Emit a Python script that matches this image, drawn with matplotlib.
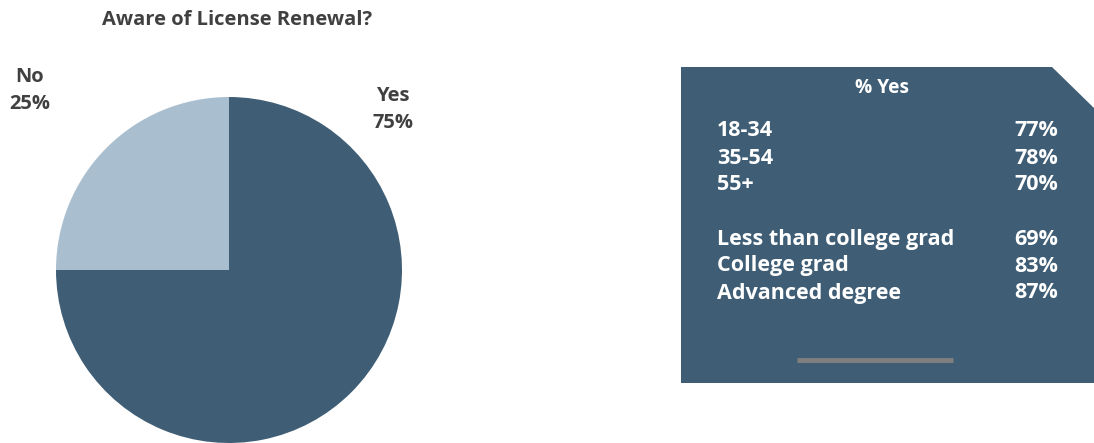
import matplotlib
matplotlib.use("Agg")
import matplotlib.pyplot as plt
from matplotlib.patches import Polygon

plt.rcParams["font.family"] = ["Open Sans", "DejaVu Sans"]

answers = ["Yes", "No"]
shares = [75, 25]
slice_colors = ["#3f5e75", "#a9bfd0"]

age_groups = ["18-34", "35-54", "55+"]
age_yes = [77, 78, 70]
edu_groups = ["Less than college grad", "College grad", "Advanced degree"]
edu_yes = [69, 83, 87]

W, H = 1094, 443
fig = plt.figure(figsize=(W / 100, H / 100), dpi=100)

# pie
ax = fig.add_axes([56 / W, 0, 346 / W, 346 / H])
ax.pie(shares, colors=slice_colors, startangle=90, counterclock=False,
       radius=1.0, wedgeprops=dict(linewidth=0))
ax.set_xlim(-1, 1)
ax.set_ylim(-1, 1)
ax.set_aspect("equal")
ax.axis("off")

# overlay in pixel coords
ov = fig.add_axes([0, 0, 1, 1], zorder=-1)
ov.set_xlim(0, W)
ov.set_ylim(H, 0)
ov.axis("off")

txt = "#404040"
fs = 14.5
ov.text(237, 20, "Aware of License Renewal?", ha="center", va="center",
        fontsize=fs, fontweight="bold", color=txt)
ov.text(30, 77, answers[1], ha="center", va="center", fontsize=fs,
        fontweight="bold", color=txt)
ov.text(30, 104, f"{shares[1]}%", ha="center", va="center", fontsize=fs,
        fontweight="bold", color=txt)
ov.text(393, 96, answers[0], ha="center", va="center", fontsize=fs,
        fontweight="bold", color=txt)
ov.text(393, 123, f"{shares[0]}%", ha="center", va="center", fontsize=fs,
        fontweight="bold", color=txt)

# side panel
panel = Polygon([(681, 67), (1052, 67), (1094, 108), (1094, 383), (681, 383)],
                closed=True, facecolor="#3f5e75", edgecolor="none")
ov.add_patch(panel)
ov.plot([797, 953], [360, 360], color="#808080", lw=3.5, solid_capstyle="butt")

ov.text(882, 88, "% Yes", ha="center", va="center", fontsize=13.8,
        fontweight="bold", color="white")

rows = list(zip(age_groups, age_yes)) + [None] + list(zip(edu_groups, edu_yes))
y = 131
for r in rows:
    if r is not None:
        ov.text(717, y, r[0], ha="left", va="center", fontsize=15.5,
                fontweight="bold", color="white")
        ov.text(1058, y, f"{r[1]}%", ha="right", va="center", fontsize=15.5,
                fontweight="bold", color="white")
    y += 27

fig.savefig("out.png", dpi=100)
